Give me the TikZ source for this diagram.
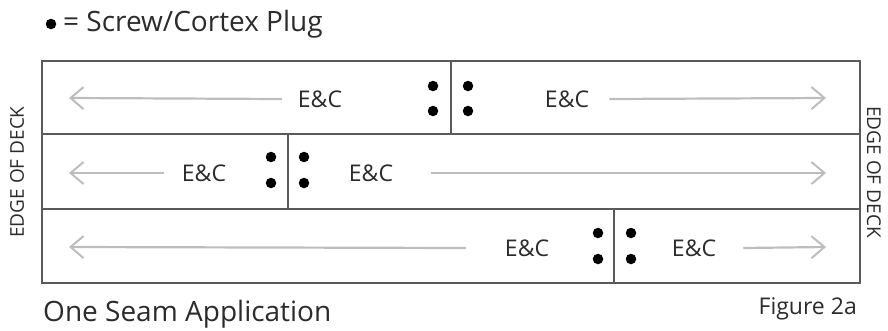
\documentclass[tikz,border=0pt]{standalone}
\usepackage{fontspec}
\setmainfont{Open Sans}
\usetikzlibrary{arrows.meta}
\definecolor{frame}{HTML}{5A5A5A}
\definecolor{arr}{HTML}{BDBDBD}
\definecolor{txt}{HTML}{2B2B2B}
\begin{document}
\begin{tikzpicture}[x=1pt,y=-1pt,
  frameline/.style={draw=frame,line width=1.6pt},
  ecarrow/.style={draw=arr,line width=2.2pt,-{Straight Barb[length=13pt,width=22pt,line width=2pt]}},
  eclabel/.style={text=txt,font=\fontsize{23}{26}\selectfont,inner sep=0pt},
  plug/.style={fill=black,draw=none,circle,minimum size=10.5pt,inner sep=0pt},
  edge/.style={text=txt,font=\fontsize{19}{22}\selectfont,inner sep=0pt},
  caption/.style={text=txt,font=\fontsize{28}{31}\selectfont,inner sep=0pt}]
\useasboundingbox (0,0) rectangle (888,330);
% frame
\draw[frameline] (42,61) rectangle (860,283);
\draw[frameline] (42,134) -- (860,134);
\draw[frameline] (42,209) -- (860,209);
\draw[frameline] (451,61) -- (451,134);
\draw[frameline] (288,134) -- (288,209);
\draw[frameline] (614,209) -- (614,283);
% legend
\node[plug] (lg) at (51,24) {};
\node[caption,anchor=west] (lgt) at (63,24) {= Screw/Cortex Plug};
% row 1
\node[eclabel] (r1l) at (320,99) {E\&C};
\node[eclabel] (r1r) at (567,99) {E\&C};
\coordinate (r1a) at (69,98);
\coordinate (r1b) at (826,98);
\draw[ecarrow] (r1l.west) ++(-16,0) coordinate (r1ls) -- (r1a);
\draw[ecarrow] (r1r.east) ++(20,0) coordinate (r1rs) -- (r1b);
\node[plug] (p1a) at (433,86) {};
\node[plug] (p1b) at (433,111) {};
\node[plug] (p1c) at (468,86) {};
\node[plug] (p1d) at (468,111) {};
% row 2
\node[eclabel] (r2l) at (204,173) {E\&C};
\node[eclabel] (r2r) at (371,173) {E\&C};
\coordinate (r2a) at (69,173);
\coordinate (r2b) at (826,173);
\draw[ecarrow] (r2l.west) ++(-18,0) coordinate (r2ls) -- (r2a);
\draw[ecarrow] (r2r.east) ++(38,0) coordinate (r2rs) -- (r2b);
\node[plug] (p2a) at (271,157) {};
\node[plug] (p2b) at (271,183) {};
\node[plug] (p2c) at (304,157) {};
\node[plug] (p2d) at (304,183) {};
% row 3
\node[eclabel] (r3l) at (527,248) {E\&C};
\node[eclabel] (r3r) at (694,248) {E\&C};
\coordinate (r3a) at (69,247);
\coordinate (r3b) at (826,247);
\draw[ecarrow] (r3l.west) ++(-39,0) coordinate (r3ls) -- (r3a);
\draw[ecarrow] (r3r.east) ++(27,0) coordinate (r3rs) -- (r3b);
\node[plug] (p3a) at (598,233) {};
\node[plug] (p3b) at (598,259) {};
\node[plug] (p3c) at (631,233) {};
\node[plug] (p3d) at (631,259) {};
% edges
\node[edge,rotate=90] (eL) at (17,172) {EDGE OF DECK};
\node[edge,rotate=-90] (eR) at (874,172) {EDGE OF DECK};
% captions
\node[caption,anchor=west] (cap) at (43,314) {One Seam Application};
\node[text=txt,font=\fontsize{23}{26}\selectfont,inner sep=0pt,anchor=east] (fig) at (857,309) {Figure 2a};
\end{tikzpicture}
\end{document}
